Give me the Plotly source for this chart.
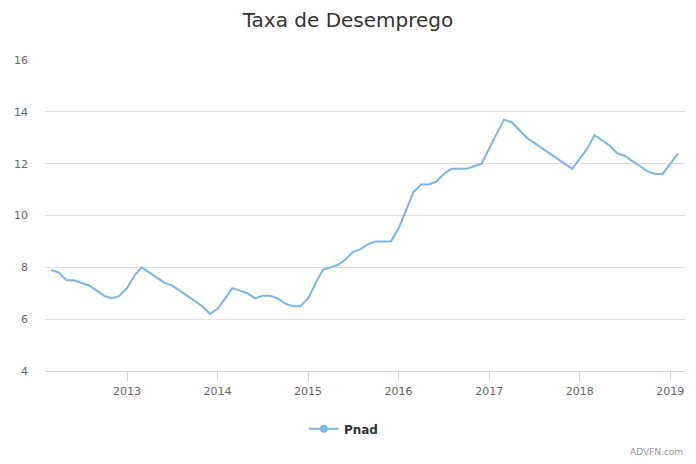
import plotly.graph_objects as go
import pandas as pd

months = pd.date_range("2012-03-01", "2019-02-01", freq="MS")
pnad = [
    7.9, 7.8, 7.5, 7.5, 7.4, 7.3, 7.1, 6.9, 6.8, 6.9,          # 2012 Mar-Dec
    7.2, 7.7, 8.0, 7.8, 7.6, 7.4, 7.3, 7.1, 6.9, 6.7, 6.5, 6.2,  # 2013
    6.4, 6.8, 7.2, 7.1, 7.0, 6.8, 6.9, 6.9, 6.8, 6.6, 6.5, 6.5,  # 2014
    6.8, 7.4, 7.9, 8.0, 8.1, 8.3, 8.6, 8.7, 8.9, 9.0, 9.0, 9.0,  # 2015
    9.5, 10.2, 10.9, 11.2, 11.2, 11.3, 11.6, 11.8, 11.8, 11.8, 11.9, 12.0,  # 2016
    12.6, 13.2, 13.7, 13.6, 13.3, 13.0, 12.8, 12.6, 12.4, 12.2, 12.0, 11.8,  # 2017
    12.2, 12.6, 13.1, 12.9, 12.7, 12.4, 12.3, 12.1, 11.9, 11.7, 11.6, 11.6,  # 2018
    12.0, 12.4,  # 2019
]
year_ticks = ["2013-01-01", "2014-01-01", "2015-01-01", "2016-01-01",
              "2017-01-01", "2018-01-01", "2019-01-01"]
year_labels = ["2013", "2014", "2015", "2016", "2017", "2018", "2019"]
y_ticks = [4, 6, 8, 10, 12, 14, 16]

color = "#7cb5ec"
font = "DejaVu Sans, Lucida Grande, sans-serif"

fig = go.Figure()
fig.add_trace(go.Scatter(x=months, y=pnad, mode="lines", name="Pnad",
                         line=dict(color=color, width=2), showlegend=False,
                         hoverinfo="x+y"))
fig.add_trace(go.Scatter(x=[None], y=[None], mode="lines+markers", name="Pnad",
                         line=dict(color=color, width=2),
                         marker=dict(color=color, size=8, symbol="circle"),
                         showlegend=True))

fig.update_layout(
    width=696, height=464,
    margin=dict(l=45, r=11, t=60, b=93),
    paper_bgcolor="white", plot_bgcolor="white",
    font=dict(family=font, color="#666666", size=11),
    title=dict(text="Taxa de Desemprego", x=0.5, xanchor="center",
               y=1 - 20 / 464, yanchor="middle",
               font=dict(size=20, color="#333333", family=font)),
    showlegend=True,
    legend=dict(orientation="h", x=0.467, xanchor="center", y=-0.186, yanchor="middle",
                font=dict(size=12, color="#333333", family=font, weight="bold"),
                bgcolor="rgba(0,0,0,0)"),
    xaxis=dict(type="date", range=["2012-02-05", "2019-03-01"],
               tickvals=year_ticks, ticktext=year_labels,
               showgrid=False, showline=True, linecolor="#ccd6eb", linewidth=1,
               ticks="outside", ticklen=10, tickcolor="#ccd6eb", tickwidth=1,
               tickfont=dict(size=11, color="#666666"), zeroline=False,
               fixedrange=True),
    yaxis=dict(range=[4, 16], tickvals=y_ticks, showgrid=True, gridcolor="#e0e0e0",
               gridwidth=1, zeroline=False, showline=False,
               tickfont=dict(size=11, color="#666666"), ticks="", ticklen=0,
               ticklabelstandoff=16, fixedrange=True),
    annotations=[dict(text="ADVFN.com", xref="paper", yref="paper", x=1, y=-0.26,
                      xanchor="right", yanchor="middle", showarrow=False,
                      font=dict(size=9, color="#999999", family=font))],
)

fig.write_html("out.html", config={"displayModeBar": False},
               post_script="document.body.style.margin='0';")
